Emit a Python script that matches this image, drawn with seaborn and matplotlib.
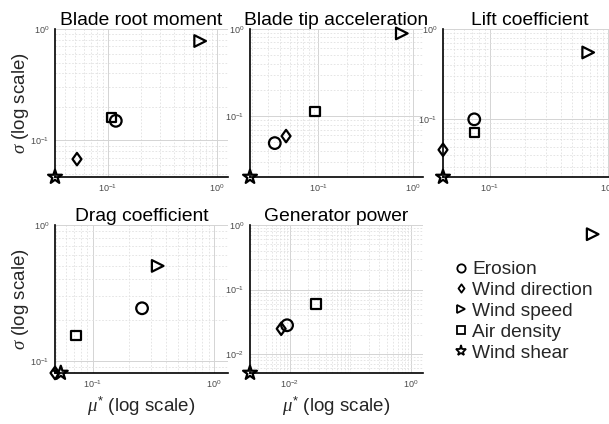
import numpy as np
import pandas as pd
import matplotlib
matplotlib.use("Agg")
import matplotlib.pyplot as plt
from matplotlib.lines import Line2D
from matplotlib.path import Path
from matplotlib.ticker import LogLocator, FixedLocator, NullFormatter
import seaborn as sns

sns.set_theme(style="white")
plt.rcParams['font.family'] = ['Liberation Sans', 'DejaVu Sans']
plt.rcParams['mathtext.fontset'] = 'custom'
plt.rcParams['mathtext.rm'] = 'Liberation Sans'
plt.rcParams['mathtext.it'] = 'Liberation Serif:italic'
plt.rcParams['mathtext.bf'] = 'Liberation Sans:bold'

# ---- data ----
params = ['Erosion', 'Wind direction', 'Wind speed', 'Air density', 'Wind shear']
titles = ['Blade root moment', 'Blade tip acceleration', 'Lift coefficient',
          'Drag coefficient', 'Generator power']

mu_root = [0.118, 0.052, 0.70, 0.107, 0.0327]
sigma_root = [0.15, 0.068, 0.78, 0.16, 0.047]
mu_tip = [0.035, 0.046, 0.76, 0.093, 0.0192]
sigma_tip = [0.049, 0.059, 0.89, 0.113, 0.020]
mu_lift = [0.0736, 0.040, 0.68, 0.0735, 0.040]
sigma_lift = [0.10, 0.046, 0.55, 0.072, 0.023]
mu_drag = [0.255, 0.049, 0.343, 0.073, 0.0547]
sigma_drag = [0.244, 0.0815, 0.50, 0.153, 0.0815]
mu_power = [0.0090, 0.0072, 1000.0, 0.0272, 0.0022]
sigma_power = [0.028, 0.0247, 0.72, 0.060, 0.0051]

mus = [mu_root, mu_tip, mu_lift, mu_drag, mu_power]
sigmas = [sigma_root, sigma_tip, sigma_lift, sigma_drag, sigma_power]
xmax = [1.26, 1.27, 1.17, 1.30, 1.58]

diamond = Path([(0, 1), (0.72, 0), (0, -1), (-0.72, 0), (0, 1)],
               [Path.MOVETO, Path.LINETO, Path.LINETO, Path.LINETO, Path.CLOSEPOLY])
markers = {'Erosion': 'o', 'Wind direction': diamond, 'Wind speed': '>',
           'Air density': 's', 'Wind shear': '*'}
sizes = {'Erosion': 70, 'Wind direction': 80, 'Wind speed': 70,
         'Air density': 45, 'Wind shear': 110}

W, H = 609, 424
fig = plt.figure(figsize=(W / 100, H / 100), dpi=100)

lefts = [55, 250, 443, 55, 250]
tops = [29, 29, 29, 225, 225]
aw, ah = 173, 148

tick_col = '#4a4a4a'

for i in range(5):
    ax = fig.add_axes([lefts[i] / W, 1 - (tops[i] + ah) / H, aw / W, ah / H])
    df = pd.DataFrame({'param': params, 'mu': mus[i], 'sigma': sigmas[i]})
    for p in params:
        sub = df[df['param'] == p]
        sns.scatterplot(data=sub, x='mu', y='sigma', marker=markers[p], s=sizes[p],
                        color='black', facecolor='none', edgecolor='black',
                        linewidth=1.6, ax=ax, zorder=5, clip_on=False, legend=False)
    ax.set_xscale('log')
    ax.set_yscale('log')
    ax.set_xlim(min(mus[i]), xmax[i])
    ax.set_ylim(min(sigmas[i]), 1.0)

    if i == 4:
        ax.xaxis.set_major_locator(FixedLocator([1e-2, 1e0]))
        ax.xaxis.set_minor_locator(FixedLocator(
            [m * 10.0 ** e for e in (-3, -2, -1, 0) for m in range(2, 10)] + [1e-1]))
    else:
        ax.xaxis.set_major_locator(LogLocator(base=10, numticks=10))
        ax.xaxis.set_minor_locator(LogLocator(base=10, subs=np.arange(2, 10), numticks=20))
    ax.yaxis.set_major_locator(LogLocator(base=10, numticks=10))
    ax.yaxis.set_minor_locator(LogLocator(base=10, subs=np.arange(2, 10), numticks=20))
    ax.xaxis.set_minor_formatter(NullFormatter())
    ax.yaxis.set_minor_formatter(NullFormatter())

    ax.grid(True, which='major', color='#d4d4d4', linewidth=0.7, linestyle='-')
    ax.grid(True, which='minor', color='#e0e0e0', linewidth=0.6, linestyle=(0, (2, 2)))
    ax.set_axisbelow(True)

    for s in ['top', 'right']:
        ax.spines[s].set_visible(False)
    for s in ['left', 'bottom']:
        ax.spines[s].set_color('black')
        ax.spines[s].set_linewidth(1.2)
    ax.tick_params(which='major', direction='in', length=3, width=0.6,
                   color='#333333', labelsize=6.5, labelcolor=tick_col, pad=4)
    ax.tick_params(which='minor', direction='in', length=2, width=0.5, color='#333333')

    ax.set_title(titles[i], fontsize=13.9, pad=3, color='black')
    ax.set_xlabel('')
    ax.set_ylabel('')
    if i in (0, 3):
        ax.set_ylabel(r'$\sigma$ (log scale)', fontsize=13.5)
        ax.yaxis.set_label_coords(-0.14, 0.5)
    if i in (3, 4):
        ax.set_xlabel(r'$\mu^{*}$ (log scale)', fontsize=13.5, labelpad=3)

handles = [Line2D([], [], linestyle='none', marker=markers[p],
                  markersize=6 if p != 'Wind shear' else 8,
                  markerfacecolor='none', markeredgecolor='black', markeredgewidth=1.3)
           for p in params]
fig.legend(handles, params, loc='upper left', bbox_to_anchor=(456 / W, 1 - 261 / H),
           frameon=False, fontsize=13.75, handlelength=0.5, handletextpad=0.35,
           labelspacing=0.18, borderpad=0, borderaxespad=0)

fig.savefig('out.png', dpi=100)
